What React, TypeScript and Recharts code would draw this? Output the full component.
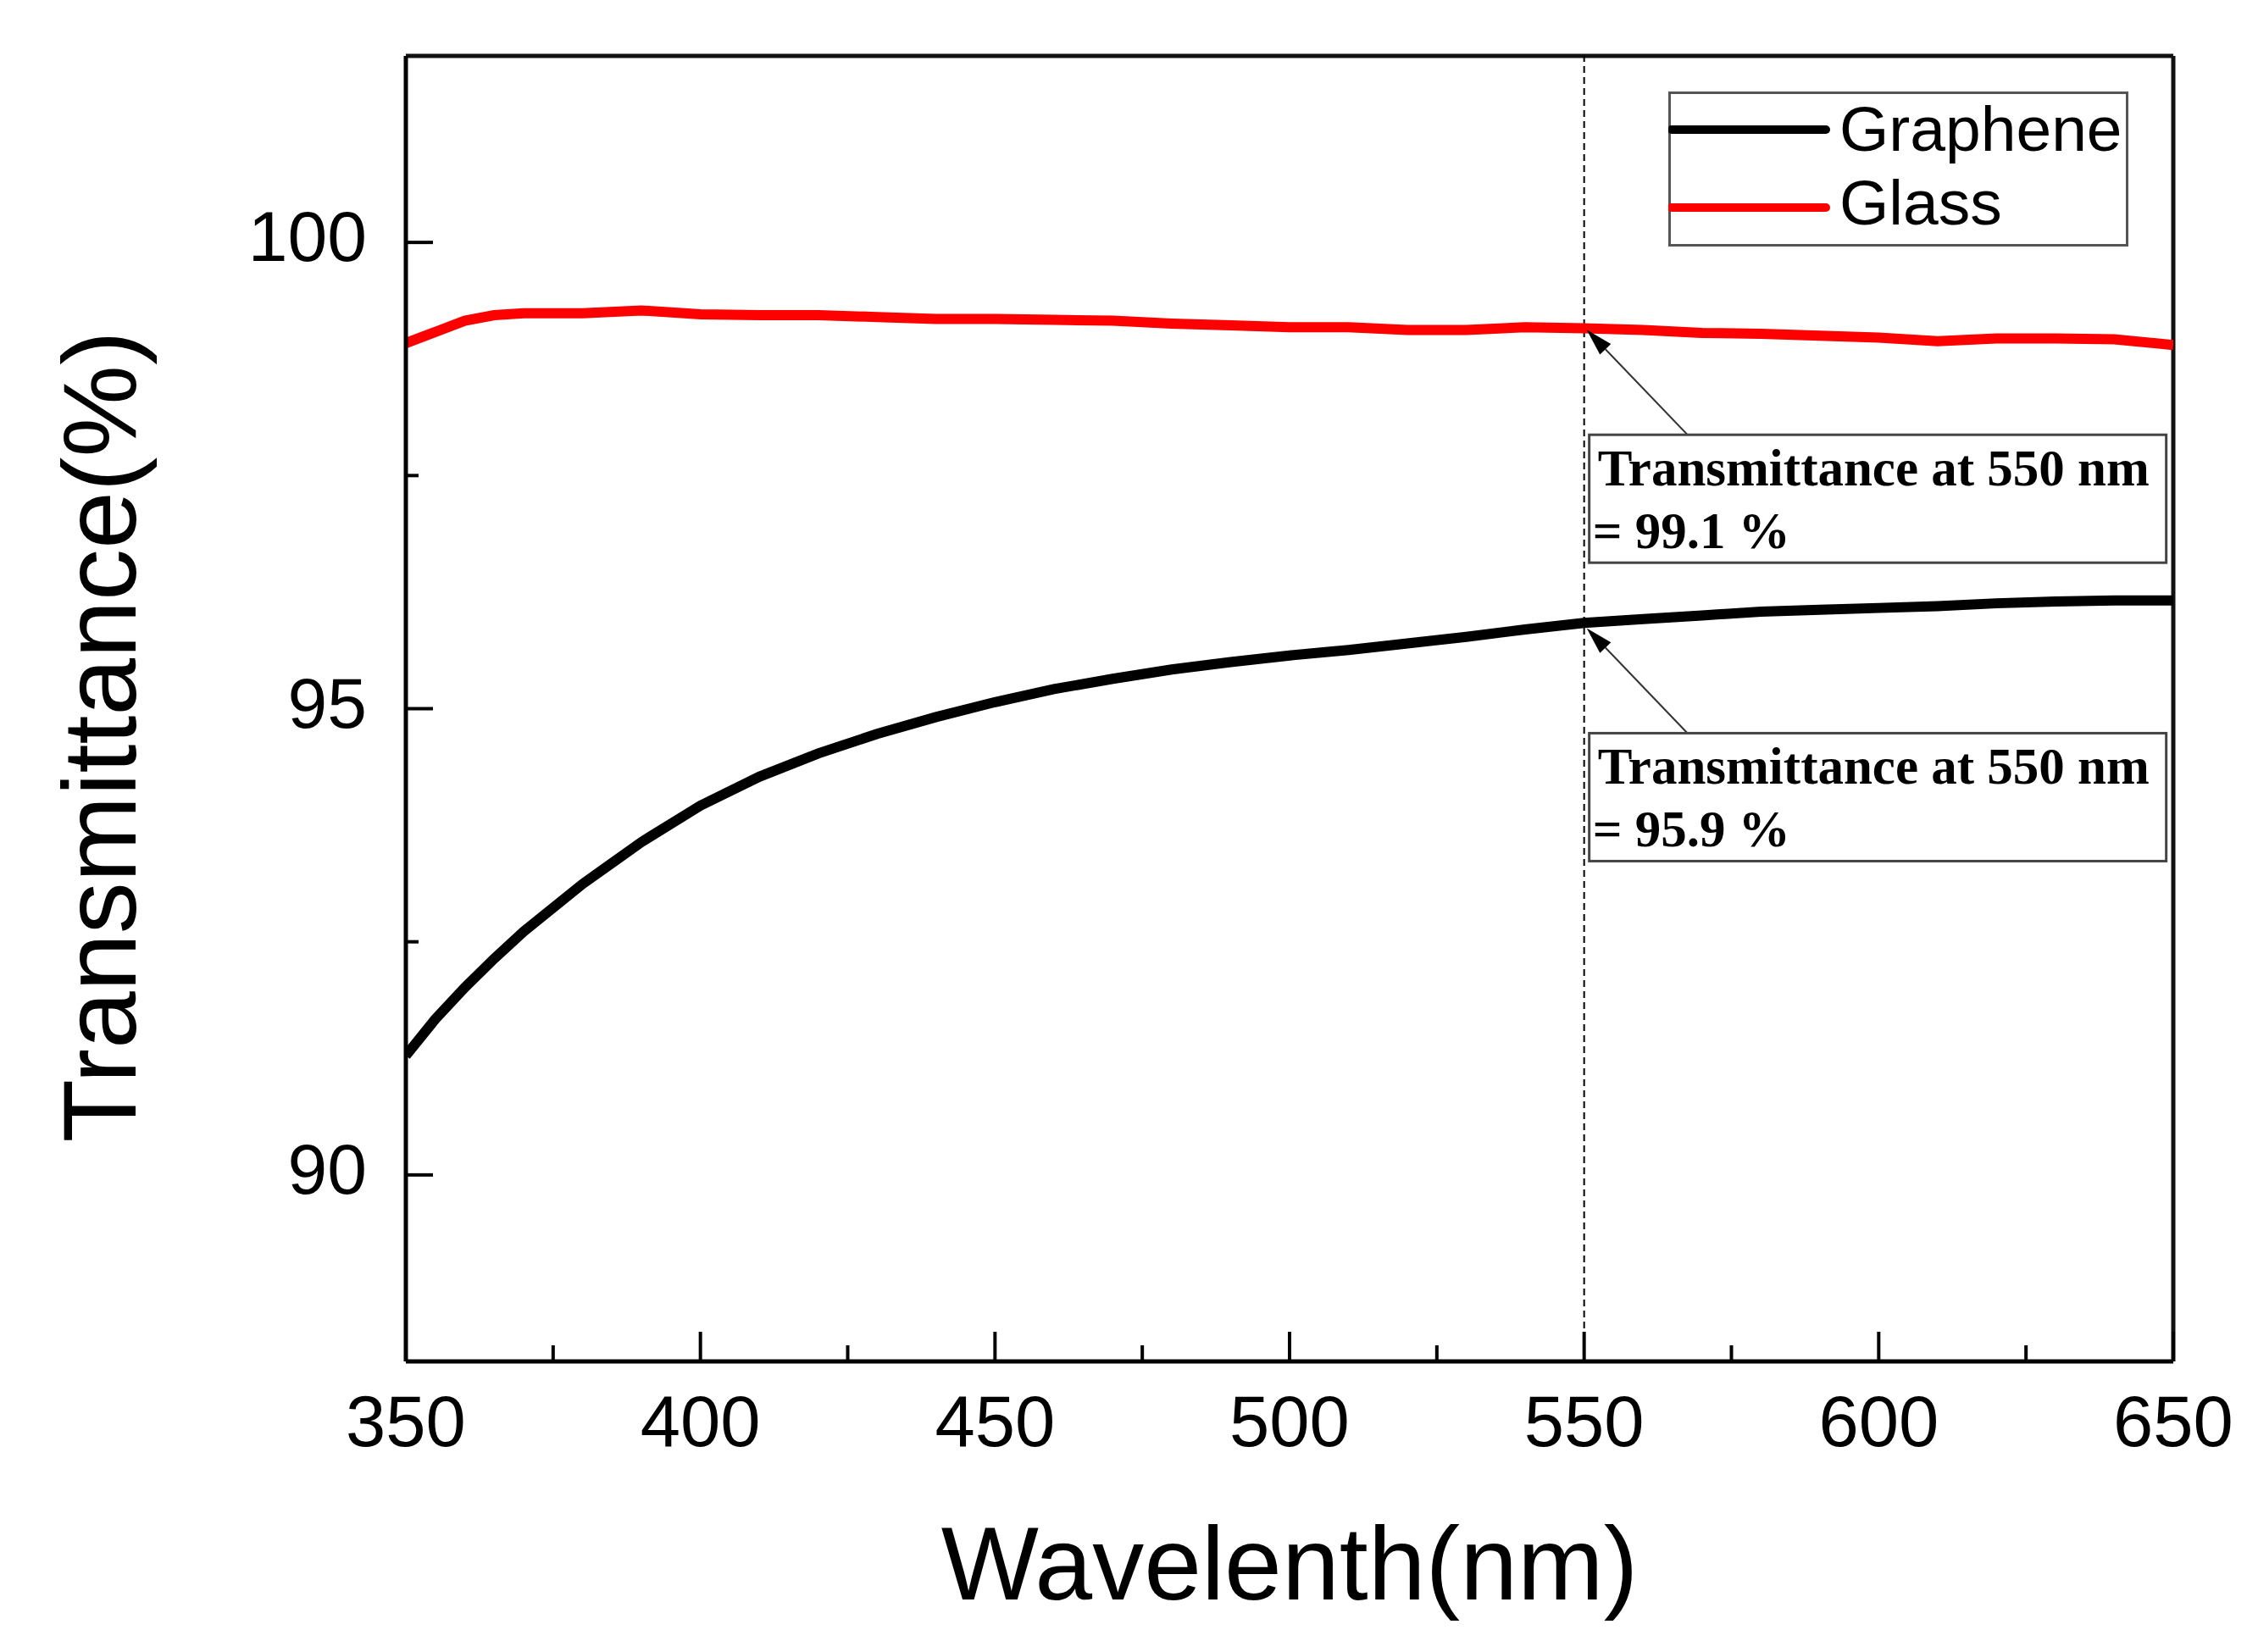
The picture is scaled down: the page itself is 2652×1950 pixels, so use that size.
import React from 'react';
import {
  LineChart,
  Line,
  XAxis,
  YAxis,
  Legend,
  ReferenceLine,
  ReferenceDot,
} from 'recharts';

// ---- data ----
const wavelengths = [
  350, 355, 360, 365, 370, 380, 390, 400, 410, 420, 430, 440, 450, 460, 470, 480, 490,
  500, 510, 520, 530, 540, 550, 560, 570, 580, 590, 600, 610, 620, 630, 640, 650,
];
const grapheneT = [
  91.28, 91.67, 92.01, 92.32, 92.61, 93.12, 93.57, 93.96, 94.27, 94.52, 94.73, 94.91, 95.07,
  95.21, 95.32, 95.42, 95.5, 95.57, 95.63, 95.7, 95.77, 95.85, 95.92, 95.96, 96.0, 96.04,
  96.06, 96.08, 96.1, 96.13, 96.15, 96.16, 96.16,
];
const glassT = [
  98.92, 99.04, 99.16, 99.22, 99.24, 99.24, 99.27, 99.23, 99.22, 99.22, 99.2, 99.18, 99.18,
  99.17, 99.16, 99.13, 99.11, 99.09, 99.09, 99.06, 99.06, 99.09, 99.08, 99.06, 99.03, 99.02,
  99.0, 98.98, 98.94, 98.97, 98.97, 98.96, 98.9,
];
const seriesNames = ['Graphene', 'Glass'];
const xTicks = [350, 375, 400, 425, 450, 475, 500, 525, 550, 575, 600, 625, 650];
const yTicks = [90, 92.5, 95, 97.5, 100];
const xDomain = [350, 650];
const yDomain = [88, 102];
const markWavelength = 550;
const annotValues = [99.1, 95.9];
const annotTitle = 'Transmittance at 550 nm';

const data = wavelengths.map((w, i) => ({ w, graphene: grapheneT[i], glass: glassT[i] }));

const SANS = '"Liberation Sans", Arial, sans-serif';
const SERIF = '"Liberation Serif", "Times New Roman", serif';

const XTick = (props: any) => {
  const { x, y, payload } = props;
  const major = payload.value % 50 === 0;
  return (
    <g>
      <line x1={x} x2={x} y1={y} y2={y - (major ? 35 : 19)} stroke="#000" strokeWidth={4} />
      {major && (
        <text x={x} y={y + 100} textAnchor="middle" fontSize={85} fontFamily={SANS} fill="#000">
          {payload.value}
        </text>
      )}
    </g>
  );
};

const YTick = (props: any) => {
  const { x, y, payload } = props;
  const major = payload.value % 5 === 0;
  return (
    <g>
      <line x1={x} x2={x + (major ? 32 : 15)} y1={y} y2={y} stroke="#000" strokeWidth={4} />
      {major && (
        <text x={x - 46} y={y + 22} textAnchor="end" fontSize={84} fontFamily={SANS} fill="#000">
          {payload.value}
        </text>
      )}
    </g>
  );
};

const XTitle = (props: any) => {
  const vb = props.viewBox;
  return (
    <text
      x={vb.x + vb.width / 2}
      y={vb.y + 281}
      textAnchor="middle"
      fontSize={122}
      fontFamily={SANS}
      fill="#000"
    >
      Wavelenth(nm)
    </text>
  );
};

const YTitle = (props: any) => {
  const vb = props.viewBox;
  const tx = vb.x + vb.width - 319;
  const ty = vb.y + vb.height / 2 + 33;
  return (
    <text
      x={tx}
      y={ty}
      transform={`rotate(-90, ${tx}, ${ty})`}
      textAnchor="middle"
      fontSize={122}
      fontFamily={SANS}
      fill="#000"
    >
      Transmittance(%)
    </text>
  );
};

const makeAnnotation = (value: number) => (props: any) => {
  const { cx, cy } = props;
  if (cx == null || cy == null) return <g />;
  const bx = cx + 6;
  const by = cy + 128;
  const sx = cx + 122;
  const sy = by;
  const tx = cx + 3;
  const ty = cy + 4;
  const ang = Math.atan2(ty - sy, tx - sx);
  const L = 32;
  const W = 9;
  const hx = tx - L * Math.cos(ang);
  const hy = ty - L * Math.sin(ang);
  const p2x = hx + W * Math.sin(ang);
  const p2y = hy - W * Math.cos(ang);
  const p3x = hx - W * Math.sin(ang);
  const p3y = hy + W * Math.cos(ang);
  return (
    <g>
      <line x1={sx} y1={sy} x2={hx} y2={hy} stroke="#333" strokeWidth={2} />
      <polygon points={`${tx},${ty} ${p2x},${p2y} ${p3x},${p3y}`} fill="#000" />
      <rect x={bx} y={by} width={681} height={151} fill="#fff" stroke="#444" strokeWidth={3} />
      <text x={bx + 10} y={by + 60} fontSize={61} fontWeight="bold" fontFamily={SERIF} fill="#000">
        {annotTitle}
      </text>
      <text x={bx + 4} y={by + 134} fontSize={61} fontWeight="bold" fontFamily={SERIF} fill="#000">
        {`= ${value} %`}
      </text>
    </g>
  );
};

const LegendContent = (props: any) => {
  const raw = props.payload || [];
  const payload = seriesNames
    .map((n) => raw.find((p: any) => p.value === n))
    .filter(Boolean);
  return (
    <svg width={545} height={185} style={{ display: 'block' }}>
      <rect x={1.5} y={1.5} width={540} height={180} fill="#fff" stroke="#555" strokeWidth={3} />
      {payload.map((p: any, i: number) => (
        <g key={p.value}>
          <line
            x1={4}
            x2={186}
            y1={45 + i * 92}
            y2={45 + i * 92}
            stroke={p.color}
            strokeWidth={10}
            strokeLinecap="round"
          />
          <text x={202} y={70 + i * 87} fontSize={75} fontFamily={SANS} fill="#000">
            {p.value}
          </text>
        </g>
      ))}
    </svg>
  );
};

export default function App() {
  return (
    <div style={{ position: 'absolute', left: 0, top: 0, width: 2652, height: 1950, background: '#fff' }}>
      <LineChart
        width={2652}
        height={1950}
        data={data}
        margin={{ top: 66, right: 87, left: 279, bottom: 143 }}
      >
        <XAxis
          dataKey="w"
          type="number"
          domain={xDomain}
          ticks={xTicks}
          interval={0}
          tickSize={0}
          tickMargin={0}
          height={200}
          axisLine={{ stroke: '#000', strokeWidth: 5 }}
          tickLine={false}
          tick={<XTick />}
          label={{ value: 'Wavelenth(nm)', content: XTitle }}
          allowDataOverflow
        />
        <YAxis
          type="number"
          domain={yDomain}
          ticks={yTicks}
          interval={0}
          tickSize={0}
          tickMargin={0}
          width={200}
          axisLine={{ stroke: '#000', strokeWidth: 5 }}
          tickLine={false}
          tick={<YTick />}
          label={{ value: 'Transmittance(%)', content: YTitle }}
          allowDataOverflow
        />
        {/* plot frame: top and right edges */}
        <ReferenceLine y={yDomain[1]} stroke="#111" strokeWidth={5} ifOverflow="visible" />
        <ReferenceLine x={xDomain[1]} stroke="#111" strokeWidth={5} ifOverflow="visible" />
        <ReferenceLine
          x={markWavelength}
          stroke="#000"
          strokeWidth={2}
          strokeDasharray="8 5"
        />
        <Line
          type="linear"
          dataKey="graphene"
          name="Graphene"
          stroke="#000"
          strokeWidth={12}
          dot={false}
          isAnimationActive={false}
        />
        <Line
          type="linear"
          dataKey="glass"
          name="Glass"
          stroke="#ff0000"
          strokeWidth={12}
          dot={false}
          isAnimationActive={false}
        />
        <ReferenceDot
          x={markWavelength}
          y={annotValues[0]}
          r={0}
          shape={makeAnnotation(annotValues[0])}
        />
        <ReferenceDot
          x={markWavelength}
          y={annotValues[1]}
          r={0}
          shape={makeAnnotation(annotValues[1])}
        />
        <Legend
          layout="horizontal"
          verticalAlign="middle"
          align="center"
          content={LegendContent}
          wrapperStyle={{ position: 'absolute', left: 1969, top: 108, width: 545, height: 185 }}
        />
      </LineChart>
    </div>
  );
}
